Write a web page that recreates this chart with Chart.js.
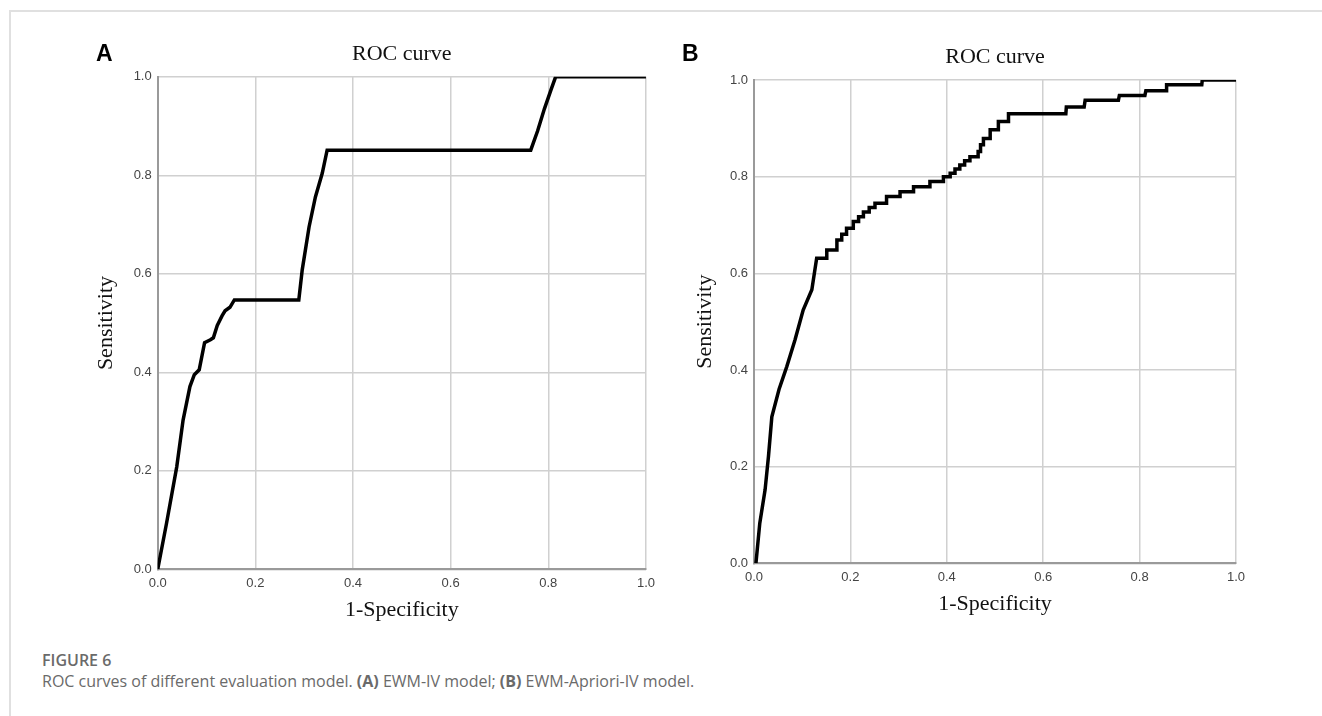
<!DOCTYPE html>
<html>
<head>
<meta charset="utf-8">
<script src="https://cdn.jsdelivr.net/npm/chart.js@4"></script>
<style>
  body { margin: 0; background: #fff; width: 1322px; height: 716px; overflow: hidden; position: relative; }
  .frame { position: absolute; left: 9px; top: 10px; right: 0; bottom: 0; border-top: 2px solid #e0e0e0; border-left: 2px solid #e0e0e0; }
  .panel { position: absolute; top: 0; width: 661px; height: 640px; }
  .letter { position: absolute; font: bold 23px "Liberation Sans", Arial, sans-serif; color: #000; }
  .caption { position: absolute; left: 42px; font-family: "Open Sans", sans-serif; color: #6a6a6a; font-size: 16px; white-space: nowrap; }
</style>
</head>
<body>
<div class="frame"></div>
<div class="panel" style="left:0"><canvas id="rocA"></canvas></div>
<div class="panel" style="left:661px"><canvas id="rocB"></canvas></div>
<div class="letter" style="left:96px; top:40px">A</div>
<div class="letter" style="left:682px; top:40px">B</div>
<div class="caption" style="top:649px; font-weight:600">FIGURE 6</div>
<div class="caption" style="top:670px">ROC curves of different evaluation model. <b>(A)</b> EWM-IV model; <b>(B)</b> EWM-Apriori-IV model.</div>

<script>
// panel A: EWM-IV model
const fprA = [0, 0.018, 0.039, 0.052, 0.066, 0.075, 0.085, 0.096, 0.108, 0.114, 0.122, 0.132, 0.138, 0.148, 0.157, 0.289, 0.296, 0.310, 0.323, 0.337, 0.347, 0.764, 0.778, 0.792, 0.806, 0.815, 1.0];
const tprA = [0, 0.093, 0.208, 0.303, 0.371, 0.395, 0.405, 0.460, 0.466, 0.470, 0.495, 0.515, 0.525, 0.532, 0.547, 0.547, 0.608, 0.695, 0.756, 0.804, 0.851, 0.851, 0.890, 0.935, 0.975, 1.0, 1.0];

// panel B: EWM-Apriori-IV model (corners of the staircase)
const fprB = [0.004, 0.012, 0.023, 0.030, 0.037, 0.052, 0.068, 0.085, 0.102, 0.120, 0.130,
    0.151, 0.151, 0.172, 0.172, 0.182, 0.182, 0.192, 0.192, 0.206, 0.206, 0.217, 0.217, 0.227, 0.227,
    0.239, 0.239, 0.251, 0.251, 0.275, 0.275, 0.303, 0.303, 0.331, 0.331, 0.365, 0.365, 0.393, 0.393,
    0.407, 0.407, 0.417, 0.417, 0.427, 0.427, 0.437, 0.437, 0.448, 0.448, 0.465, 0.465, 0.470, 0.470,
    0.476, 0.476, 0.490, 0.490, 0.507, 0.507, 0.528, 0.528,
    0.647, 0.648, 0.685, 0.687, 0.756, 0.758, 0.811, 0.813, 0.855, 0.856, 0.929, 0.930, 1.0];
const tprB = [0, 0.083, 0.152, 0.221, 0.303, 0.360, 0.407, 0.462, 0.524, 0.566, 0.631,
    0.631, 0.648, 0.648, 0.669, 0.669, 0.681, 0.681, 0.693, 0.693, 0.707, 0.707, 0.717, 0.717, 0.727,
    0.727, 0.736, 0.736, 0.745, 0.745, 0.759, 0.759, 0.769, 0.769, 0.779, 0.779, 0.790, 0.790, 0.800,
    0.800, 0.807, 0.807, 0.816, 0.816, 0.824, 0.824, 0.833, 0.833, 0.841, 0.841, 0.852, 0.852, 0.866,
    0.866, 0.879, 0.879, 0.897, 0.897, 0.914, 0.914, 0.930,
    0.930, 0.944, 0.944, 0.958, 0.958, 0.968, 0.968, 0.978, 0.978, 0.990, 0.990, 1.0, 1.0];

const axisTicks = [0, 0.2, 0.4, 0.6, 0.8, 1.0];

const serif = '"Liberation Serif", "Times New Roman", serif';
const sans = '"Liberation Sans", Arial, sans-serif';

function makeRoc(id, xs, ys, L) {
    const points = xs.map((x, i) => ({ x: x, y: ys[i] }));
    const gridOpts = { color: '#d0d0d0', lineWidth: 1.5, drawTicks: false };
    const borderOpts = { color: '#9a9a9a', width: 2 };
    const tickOpts = {
        color: '#444',
        font: { family: sans, size: 13 },
        padding: 6,
        callback: v => v.toFixed(1)
    };
    return new Chart(document.getElementById(id), {
        type: 'line',
        data: {
            datasets: [{
                data: points,
                borderColor: '#000',
                borderWidth: 3.5,
                pointRadius: 0,
                tension: 0,
                fill: false
            }]
        },
        options: {
            responsive: false,
            animation: false,
            events: [],
            layout: { padding: { left: L.padLeft, right: L.padRight, top: L.padTop, bottom: 0 } },
            plugins: {
                legend: { display: false },
                tooltip: { enabled: false },
                title: {
                    display: true,
                    text: 'ROC curve',
                    fullSize: false,
                    color: '#111',
                    font: { family: serif, size: 22, weight: 'normal', lineHeight: 1.2 },
                    padding: { top: L.titleTop, bottom: L.titleBottom }
                }
            },
            scales: {
                x: {
                    type: 'linear',
                    min: 0, max: 1,
                    afterBuildTicks: s => { s.ticks = axisTicks.map(v => ({ value: v })); },
                    afterFit: s => { s.height = L.xHeight; },
                    grid: gridOpts,
                    border: borderOpts,
                    ticks: tickOpts,
                    title: {
                        display: true,
                        text: '1-Specificity',
                        color: '#111',
                        font: { family: serif, size: 22, lineHeight: 1.2 },
                        padding: { top: 0, bottom: L.xTitlePad }
                    }
                },
                y: {
                    type: 'linear',
                    min: 0, max: 1,
                    afterBuildTicks: s => { s.ticks = axisTicks.map(v => ({ value: v })); },
                    afterFit: s => { s.width = L.yWidth; },
                    grid: gridOpts,
                    border: borderOpts,
                    ticks: tickOpts,
                    title: {
                        display: true,
                        text: 'Sensitivity',
                        color: '#111',
                        font: { family: serif, size: 22, lineHeight: 1.2 },
                        padding: { top: L.yTitlePad, bottom: 0 }
                    }
                }
            }
        }
    });
}

document.getElementById('rocA').width = 661;
document.getElementById('rocA').height = 640;
document.getElementById('rocB').width = 661;
document.getElementById('rocB').height = 640;

makeRoc('rocA', fprA, tprA, {
    padLeft: 85, padRight: 11.7, padTop: 30, titleTop: 11.4, titleBottom: 9,
    yWidth: 72.7, yTitlePad: 8, xHeight: 70.7, xTitlePad: 17
});
makeRoc('rocB', fprB, tprB, {
    padLeft: 20, padRight: 86, padTop: 33, titleTop: 11.4, titleBottom: 9.2,
    yWidth: 73, yTitlePad: 10.8, xHeight: 76.7, xTitlePad: 23
});
</script>
</body>
</html>
